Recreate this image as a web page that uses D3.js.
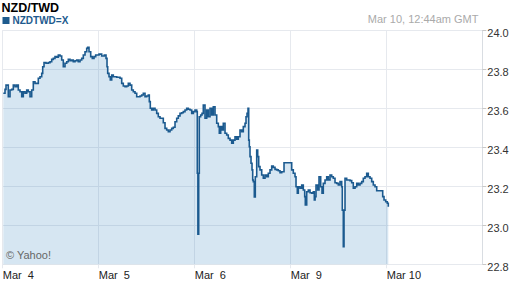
<!DOCTYPE html>
<html>
<head>
<meta charset="utf-8">
<script src="https://cdn.jsdelivr.net/npm/d3@7"></script>
<style>
  body { margin: 0; background: #fff; }
  svg { display: block; font-family: "Liberation Sans", Arial, sans-serif; }
</style>
</head>
<body>
<svg id="chart" width="512" height="288"></svg>
<script>
///////////////////////////////////////////
// Data (hours since Mar 4 00:00 GMT, weekend left out)
///////////////////////////////////////////
var hours = [
  0.25, 0.68, 0.93, 1.5, 1.93, 2.35, 2.75, 3.18, 3.6, 4.0, 4.43, 4.85, 5.25, 5.68, 6.1, 6.5, 6.93, 7.35,
  7.75, 8.18, 8.6, 9.0, 9.43, 9.85, 10.1, 10.43, 10.93, 11.5, 11.93, 12.35, 12.75, 13.18, 13.6, 14.0,
  14.43, 14.85, 15.25, 15.68, 16.1, 16.5, 16.93, 17.35, 17.75, 18.18, 18.6, 19.0, 19.43, 19.85, 20.25,
  20.68, 21.1, 21.35, 21.68, 22.1, 22.5, 22.93, 23.35, 23.75, 24.18, 24.85, 25.5, 25.93, 26.18, 26.35,
  26.68, 27.0, 27.35, 27.75, 28.18, 28.6, 29.0, 29.43, 29.85, 30.25, 30.68, 31.1, 31.5, 31.93, 32.35,
  32.75, 33.18, 33.6, 34.0, 34.43, 34.85, 35.25, 35.68, 36.1, 36.5, 36.75, 37.0, 37.35, 37.75, 38.18,
  38.6, 39.0, 39.43, 39.85, 40.25, 40.68, 41.1, 41.5, 41.93, 42.35, 42.75, 43.18, 43.6, 44.0, 44.43,
  44.85, 45.25, 45.68, 46.1, 46.5, 46.93, 47.35, 47.75, 48.18, 48.6, 48.75, 48.9, 49.1, 49.25, 49.6,
  49.93, 50.25, 50.68, 51.1, 51.5, 51.93, 52.35, 52.75, 53.18, 53.6, 54.0, 54.25, 54.6, 54.85, 55.25,
  55.68, 56.1, 56.5, 56.93, 57.35, 57.75, 58.18, 58.6, 59.0, 59.43, 59.85, 60.25, 60.68, 60.93, 61.18,
  61.43, 61.6, 61.75, 61.93, 62.18, 62.43, 62.6, 62.75, 63.0, 63.25, 63.6, 63.85, 64.1, 64.43, 64.85,
  65.25, 65.68, 66.1, 66.5, 66.93, 67.35, 67.75, 68.18, 68.6, 69.0, 69.43, 69.85, 70.25, 70.43, 71.93,
  72.35, 72.75, 73.18, 73.43, 73.75, 74.0, 74.43, 74.85, 75.25, 75.6, 75.75, 76.1, 76.5, 76.93, 77.35,
  77.75, 78.0, 78.2, 78.43, 78.85, 79.18, 79.6, 79.93, 80.25, 80.68, 81.1, 81.5, 81.93, 82.35, 82.75,
  83.18, 83.6, 84.0, 84.43, 84.85, 85.0, 85.25, 85.43, 85.68, 86.1, 86.5, 86.93, 87.35, 87.75, 88.18,
  88.6, 89.0, 89.43, 89.85, 90.25, 90.68, 91.1, 91.5, 91.93, 92.35, 92.75, 93.18, 93.6, 95.1, 95.43,
  95.85, 96.25, 96.5
];
var rates = [
  23.677, 23.697, 23.719, 23.659, 23.694, 23.697, 23.719, 23.711, 23.719, 23.694, 23.685, 23.659, 23.685, 23.677, 23.694, 23.685, 23.659, 23.694,
  23.736, 23.728, 23.728, 23.754, 23.762, 23.779, 23.813, 23.834, 23.831, 23.834, 23.839, 23.851, 23.856, 23.865, 23.862, 23.873,
  23.868, 23.848, 23.813, 23.831, 23.839, 23.851, 23.844, 23.848, 23.839, 23.844, 23.848, 23.839, 23.848, 23.856, 23.873,
  23.890, 23.908, 23.913, 23.890, 23.865, 23.856, 23.865, 23.873, 23.873, 23.878, 23.868, 23.873, 23.856, 23.813, 23.779,
  23.762, 23.745, 23.771, 23.762, 23.762, 23.759, 23.759, 23.754, 23.728, 23.714, 23.711, 23.714, 23.728, 23.719, 23.694,
  23.685, 23.677, 23.659, 23.659, 23.663, 23.668, 23.677, 23.659, 23.663, 23.668, 23.634, 23.600, 23.591, 23.600, 23.591,
  23.574, 23.557, 23.549, 23.549, 23.526, 23.497, 23.489, 23.480, 23.489, 23.497, 23.503, 23.531, 23.549, 23.561, 23.574,
  23.577, 23.583, 23.591, 23.600, 23.595, 23.591, 23.574, 23.583, 23.591, 23.583, 23.267, 22.955, 23.267, 23.557, 23.566,
  23.574, 23.617, 23.549, 23.591, 23.557, 23.600, 23.566, 23.608, 23.566, 23.523, 23.506, 23.472, 23.506, 23.489, 23.523,
  23.472, 23.463, 23.446, 23.437, 23.421, 23.437, 23.454, 23.441, 23.454, 23.489, 23.480, 23.506, 23.523, 23.557, 23.574,
  23.600, 23.437, 23.403, 23.352, 23.318, 23.284, 23.232, 23.224, 23.145, 23.249, 23.386, 23.352, 23.301, 23.284, 23.258,
  23.241, 23.258, 23.249, 23.267, 23.284, 23.304, 23.297, 23.287, 23.284, 23.280, 23.270, 23.275, 23.275, 23.321, 23.321,
  23.284, 23.267, 23.249, 23.198, 23.164, 23.198, 23.190, 23.207, 23.181, 23.147, 23.104, 23.172, 23.181, 23.167, 23.164,
  23.172, 23.130, 23.147, 23.207, 23.181, 23.249, 23.198, 23.164, 23.215, 23.232, 23.249, 23.232, 23.258, 23.249, 23.241,
  23.218, 23.215, 23.207, 23.224, 23.198, 23.078, 22.890, 23.078, 23.241, 23.232, 23.232, 23.229, 23.218, 23.190, 23.198,
  23.215, 23.207, 23.215, 23.224, 23.241, 23.249, 23.267, 23.249, 23.241, 23.224, 23.207, 23.198, 23.177, 23.147, 23.130,
  23.121, 23.113, 23.095
];
var dayTicks = [0, 24, 48, 72, 96];
var dayLabels = ["Mar  4", "Mar  5", "Mar  6", "Mar  9", "Mar 10"];
var rateTicks = [22.8, 23.0, 23.2, 23.4, 23.6, 23.8, 24.0];

///////////////////////////////////////////
// Chart
///////////////////////////////////////////
var svg = d3.select("#chart");
var plotL = 2.3, plotR = 482.3, plotT = 30.3, plotB = 264.3;

var x = d3.scaleLinear().domain([0, 120]).range([plotL, plotR]);
var y = d3.scaleLinear().domain([22.8, 24.0]).range([plotB, plotT]);

function crisp(v) { return Math.round(v - 0.5) + 0.5; }

var points = hours.map(function(h, i) { return { h: h, v: rates[i] }; });

// grid
svg.append("g").selectAll("line")
    .data(rateTicks)
  .enter().append("line")
    .attr("x1", plotL).attr("x2", plotR)
    .attr("y1", function(d) { return crisp(y(d)); })
    .attr("y2", function(d) { return crisp(y(d)); })
    .attr("stroke", "#e6e9ee");

svg.append("g").selectAll("line")
    .data(dayTicks)
  .enter().append("line")
    .attr("x1", function(d) { return crisp(x(d)); })
    .attr("x2", function(d) { return crisp(x(d)); })
    .attr("y1", plotT).attr("y2", plotB + 4)
    .attr("stroke", "#e6e9ee");

// area + line
var area = d3.area()
    .curve(d3.curveStepAfter)
    .x(function(d) { return x(d.h); })
    .y0(y(22.8))
    .y1(function(d) { return y(d.v); });

var line = d3.line()
    .curve(d3.curveStepAfter)
    .x(function(d) { return x(d.h); })
    .y(function(d) { return y(d.v); });

svg.append("path")
    .datum(points)
    .attr("d", area)
    .attr("fill", "rgb(50,130,190)")
    .attr("fill-opacity", 0.2);

svg.append("path")
    .datum(points)
    .attr("d", line)
    .attr("fill", "none")
    .attr("stroke", "#1b5a8f")
    .attr("stroke-width", 1.6);

// right axis
svg.append("line")
    .attr("x1", crisp(plotR)).attr("x2", crisp(plotR))
    .attr("y1", plotT).attr("y2", plotB)
    .attr("stroke", "#d9dde2");

var ry = svg.append("g").selectAll("g")
    .data(rateTicks)
  .enter().append("g");
ry.append("line")
    .attr("x1", plotR).attr("x2", plotR + 4)
    .attr("y1", function(d) { return crisp(y(d)); })
    .attr("y2", function(d) { return crisp(y(d)); })
    .attr("stroke", "#c8c8c8");
ry.append("text")
    .attr("x", plotR + 5)
    .attr("y", function(d) { return y(d) + 7; })
    .attr("font-size", "11px")
    .attr("fill", "#333")
    .text(function(d) { return d3.format(".1f")(d); });

// bottom labels
svg.append("g").selectAll("text")
    .data(dayTicks)
  .enter().append("text")
    .attr("x", function(d) { return x(d) + 0.5; })
    .attr("y", 279)
    .attr("font-size", "11px")
    .attr("fill", "#222")
    .style("white-space", "pre")
    .text(function(d, i) { return dayLabels[i]; });

// titles
svg.append("text")
    .attr("x", 1.5).attr("y", 11.5)
    .attr("font-size", "12.5px")
    .attr("font-weight", "bold")
    .attr("fill", "#000")
    .text("NZD/TWD");

svg.append("rect")
    .attr("x", 2.5).attr("y", 17).attr("width", 7).attr("height", 7)
    .attr("fill", "#1e5b8e");

svg.append("text")
    .attr("x", 12.5).attr("y", 24)
    .attr("font-size", "10px")
    .attr("font-weight", "bold")
    .attr("fill", "#1e5b8e")
    .text("NZDTWD=X");

svg.append("text")
    .attr("x", 478.5).attr("y", 22.5)
    .attr("text-anchor", "end")
    .attr("font-size", "11px")
    .attr("fill", "#aaa")
    .text("Mar 10, 12:44am GMT");

svg.append("text")
    .attr("x", 6).attr("y", 258.5)
    .attr("font-size", "11px")
    .attr("fill", "#666")
    .text("\u00a9 Yahoo!");
</script>
</body>
</html>
